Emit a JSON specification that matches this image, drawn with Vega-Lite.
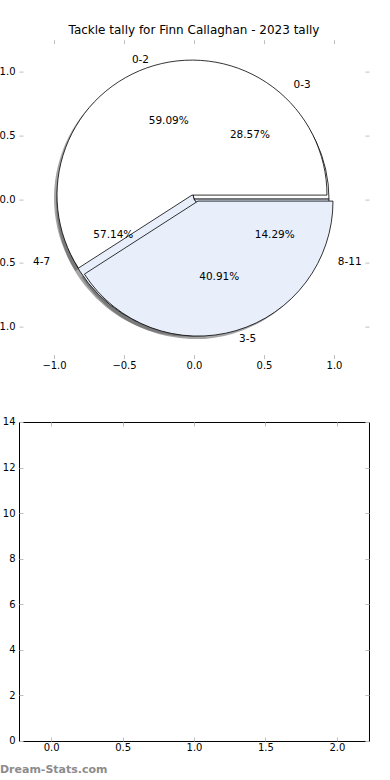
{
  "$schema": "https://vega.github.io/schema/vega-lite/v6.json",
  "background": "white",
  "autosize": {"type": "pad"},
  "padding": {"left": -10, "top": 23.6, "right": 20, "bottom": 0},
  "spacing": 63.4,
  "bounds": "flush",
  "config": {
    "font": "DejaVu Sans",
    "axis": {"labelFont": "DejaVu Sans", "labelFontSize": 10, "labelColor": "black", "tickColor": "#bfbfbf", "tickSize": -4, "tickWidth": 1, "grid": false, "title": null, "domain": false},
    "axisX": {"labelPadding": 6},
    "axisY": {"labelPadding": 8}
  },
  "vconcat": [
    {
      "width": 350,
      "height": 319,
      "view": {"stroke": null},
      "title": {"text": "Tackle tally for Finn Callaghan - 2023 tally", "fontSize": 12, "fontWeight": "normal", "font": "DejaVu Sans", "offset": 2, "color": "black"},
      "data": {"values": [
        {"pie": "A", "label": "0-2", "value": 13, "ord": 1},
        {"pie": "A", "label": "3-5", "value": 9, "ord": 2},
        {"pie": "B", "label": "0-3", "value": 2, "ord": 1},
        {"pie": "B", "label": "4-7", "value": 4, "ord": 2},
        {"pie": "B", "label": "8-11", "value": 1, "ord": 3}
      ]},
      "transform": [
        {"stack": "value", "groupby": ["pie"], "sort": [{"field": "ord", "order": "ascending"}], "offset": "normalize", "as": ["t0", "t1"]},
        {"calculate": "(datum.t0 + datum.t1) * PI", "as": "mid"},
        {"calculate": "1.14 * cos(datum.mid)", "as": "lx"},
        {"calculate": "1.14 * sin(datum.mid)", "as": "ly"},
        {"calculate": "0.64 * cos(datum.mid)", "as": "px"},
        {"calculate": "0.64 * sin(datum.mid)", "as": "py"},
        {"calculate": "format((datum.t1 - datum.t0) * 100, '.2f') + '%'", "as": "pct"}
      ],
      "layer": [
        {
          "transform": [{"filter": "datum.pie == 'B'"}],
          "mark": {"type": "arc", "outerRadius": 135, "fill": "#4d4d4d", "opacity": 0.5, "xOffset": -3, "yOffset": 3},
          "encoding": {
            "theta": {"field": "t0", "type": "quantitative", "scale": {"domain": [0, 1], "range": [1.5708, -4.7124]}},
            "theta2": {"field": "t1"}
          }
        },
        {
          "transform": [{"filter": "datum.label == '0-2'"}],
          "mark": {"type": "arc", "outerRadius": 135, "fill": "#4d4d4d", "opacity": 0.5, "xOffset": -5, "yOffset": -1},
          "encoding": {
            "theta": {"field": "t0", "type": "quantitative", "scale": {"domain": [0, 1], "range": [1.5708, -4.7124]}},
            "theta2": {"field": "t1"}
          }
        },
        {
          "transform": [{"filter": "datum.label == '3-5'"}],
          "mark": {"type": "arc", "outerRadius": 135, "fill": "#4d4d4d", "opacity": 0.5, "xOffset": 1, "yOffset": 5},
          "encoding": {
            "theta": {"field": "t0", "type": "quantitative", "scale": {"domain": [0, 1], "range": [1.5708, -4.7124]}},
            "theta2": {"field": "t1"}
          }
        },
        {
          "transform": [{"filter": "datum.pie == 'B'"}],
          "mark": {"type": "arc", "outerRadius": 135, "stroke": "black", "strokeWidth": 0.8},
          "encoding": {
            "theta": {"field": "t0", "type": "quantitative", "scale": {"domain": [0, 1], "range": [1.5708, -4.7124]}},
            "theta2": {"field": "t1"},
            "fill": {"field": "label", "type": "nominal", "legend": null, "scale": {"domain": ["0-2", "3-5", "0-3", "4-7", "8-11"], "range": ["#ffffff", "#e8effb", "#ffffff", "#e8effb", "#dde7f8"]}}
          }
        },
        {
          "transform": [{"filter": "datum.label == '0-2'"}],
          "mark": {"type": "arc", "outerRadius": 135, "stroke": "black", "strokeWidth": 0.8, "xOffset": -2, "yOffset": -4},
          "encoding": {
            "theta": {"field": "t0", "type": "quantitative", "scale": {"domain": [0, 1], "range": [1.5708, -4.7124]}},
            "theta2": {"field": "t1"},
            "fill": {"field": "label", "type": "nominal", "legend": null}
          }
        },
        {
          "transform": [{"filter": "datum.label == '3-5'"}],
          "mark": {"type": "arc", "outerRadius": 135, "stroke": "black", "strokeWidth": 0.8, "xOffset": 4, "yOffset": 2},
          "encoding": {
            "theta": {"field": "t0", "type": "quantitative", "scale": {"domain": [0, 1], "range": [1.5708, -4.7124]}},
            "theta2": {"field": "t1"},
            "fill": {"field": "label", "type": "nominal", "legend": null}
          }
        },
        {
          "mark": {"type": "text", "fontSize": 10.5, "color": "black", "align": "center", "baseline": "middle"},
          "encoding": {
            "x": {"field": "px", "type": "quantitative", "scale": {"domain": [-1.25, 1.25], "nice": false, "zero": false}, "axis": {"orient": "bottom", "values": [-1, -0.5, 0, 0.5, 1], "format": ".1f"}},
            "y": {"field": "py", "type": "quantitative", "scale": {"domain": [-1.25, 1.25], "nice": false, "zero": false}, "axis": {"orient": "left", "values": [-1, -0.5, 0, 0.5, 1], "format": ".1f"}},
            "text": {"field": "pct"}
          }
        },
        {
          "mark": {"type": "text", "fontSize": 10.5, "color": "black", "baseline": "middle", "align": {"expr": "datum.lx < 0 ? 'right' : 'left'"}},
          "encoding": {
            "x": {"field": "lx", "type": "quantitative", "axis": {"orient": "top", "values": [-1, -0.5, 0, 0.5, 1], "labels": false}},
            "y": {"field": "ly", "type": "quantitative", "axis": {"orient": "right", "values": [-1, -0.5, 0, 0.5, 1], "labels": false}},
            "text": {"field": "label"}
          }
        }
      ],
      "resolve": {"axis": {"x": "independent", "y": "independent"}}
    },
    {
      "width": 350,
      "height": 319,
      "view": {"stroke": "black", "strokeWidth": 1},
      "title": {"text": "Dream-Stats.com", "orient": "bottom", "anchor": "start", "frame": "group", "dx": -19, "offset": 11, "fontSize": 11, "fontWeight": "bold", "font": "DejaVu Sans", "color": "#8c8c8c"},
      "data": {"values": []},
      "layer": [
        {
          "mark": "point",
          "encoding": {
            "x": {"field": "x", "type": "quantitative", "scale": {"domain": [-0.225, 2.225], "nice": false, "zero": false}, "axis": {"orient": "bottom", "values": [0, 0.5, 1, 1.5, 2], "format": ".1f"}},
            "y": {"field": "y", "type": "quantitative", "scale": {"domain": [0, 14], "nice": false, "zero": false}, "axis": {"orient": "left", "values": [0, 2, 4, 6, 8, 10, 12, 14], "format": "d"}}
          }
        },
        {
          "mark": "point",
          "encoding": {
            "x": {"field": "x", "type": "quantitative", "axis": {"orient": "top", "values": [0, 0.5, 1, 1.5, 2], "labels": false}},
            "y": {"field": "y", "type": "quantitative", "axis": {"orient": "right", "values": [0, 2, 4, 6, 8, 10, 12, 14], "labels": false}}
          }
        }
      ],
      "resolve": {"axis": {"x": "independent", "y": "independent"}}
    }
  ]
}
